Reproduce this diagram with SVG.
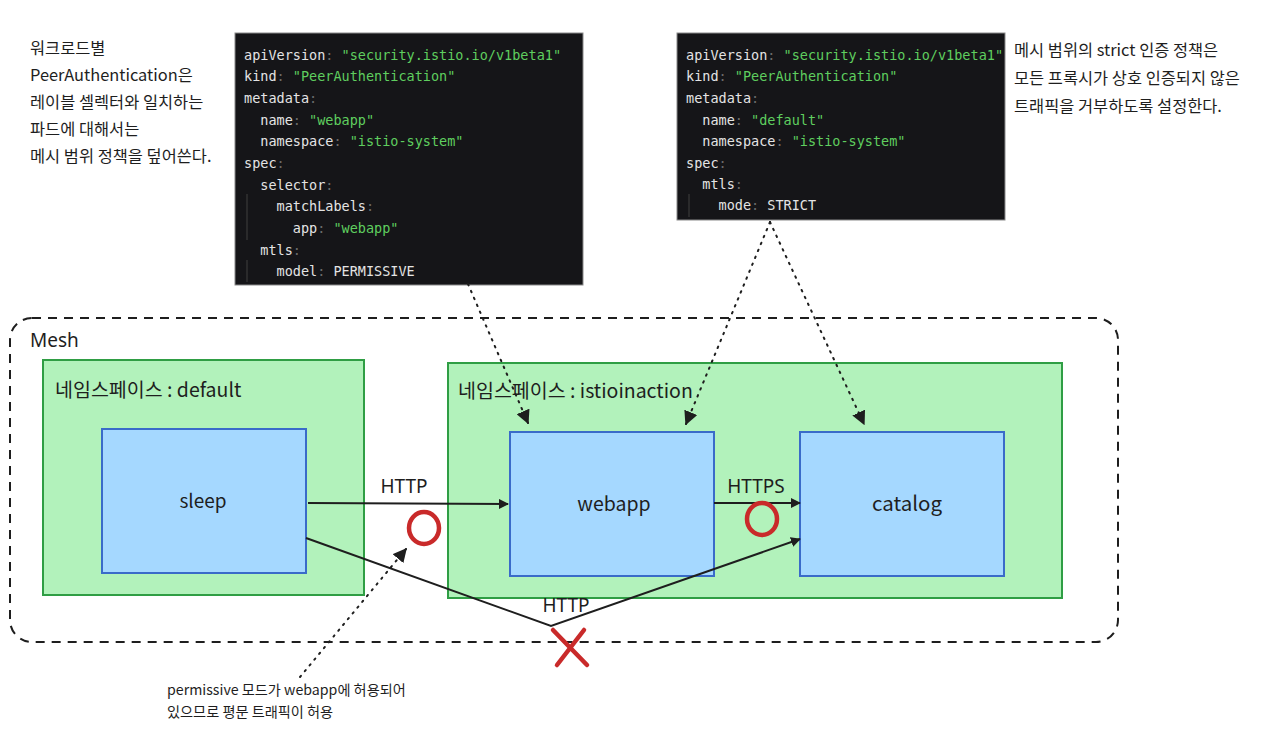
<svg xmlns="http://www.w3.org/2000/svg" width="1266" height="731" viewBox="0 0 1266 731">
<style>
.hand{font-family:"Noto Sans CJK KR","Noto Sans",sans-serif;fill:#1e1e1e}
.code{font-family:"DejaVu Sans Mono","Liberation Mono",monospace;font-size:13.5px;fill:#e4e4e4}
.s{fill:#5fce5f}
.c{fill:#6a6a6a}
.ns{fill:#b2f2bb;stroke:#2f9e44;stroke-width:2}
.node{fill:#a5d8ff;stroke:#3a6bc9;stroke-width:2}
.lbl{font-family:"Noto Sans","Liberation Sans",sans-serif;fill:#1e1e1e}
.edge{fill:none;stroke:#1e1e1e;stroke-width:2}
.dot{fill:none;stroke:#1e1e1e;stroke-width:2;stroke-dasharray:1.5 6;stroke-linecap:round}
.red{fill:none;stroke:#c92a2a;stroke-width:4.5;stroke-linecap:round}
.guide{stroke:#3a3a3a;stroke-width:1.2}
</style>
<defs>
<marker id="ah" viewBox="0 0 10 10" refX="9" refY="5" markerWidth="10" markerHeight="10" markerUnits="userSpaceOnUse" orient="auto">
<path d="M0,0 L10,5 L0,10 z" fill="#1e1e1e"/>
</marker>
<marker id="ah2" viewBox="0 0 10 10" refX="9" refY="5" markerWidth="14" markerHeight="14" markerUnits="userSpaceOnUse" orient="auto">
<path d="M0,0 L10,5 L0,10 z" fill="#1e1e1e"/>
</marker>
</defs>
<rect width="1266" height="731" fill="#ffffff"/>

<g id="note-left" class="hand" font-size="16.4">
<text x="30" y="54">워크로드별</text>
<text x="30" y="81">PeerAuthentication은</text>
<text x="30" y="108">레이블 셀렉터와 일치하는</text>
<text x="30" y="135">파드에 대해서는</text>
<text x="30" y="162">메시 범위 정책을 덮어쓴다.</text>
</g>

<g id="note-right" class="hand" font-size="16.4">
<text x="1014" y="56">메시 범위의 strict 인증 정책은</text>
<text x="1014" y="84">모든 프록시가 상호 인증되지 않은</text>
<text x="1014" y="112">트래픽을 거부하도록 설정한다.</text>
</g>

<g id="code-webapp">
<rect x="235" y="33" width="348" height="252" fill="#151518" stroke="#8a8a8a" stroke-width="1"/>
<line class="guide" x1="247" y1="194" x2="247" y2="240"/>
<line class="guide" x1="247" y1="260" x2="247" y2="282"/>
<text class="code" x="244" y="60">apiVersion<tspan class="c">:</tspan> <tspan class="s">"security.istio.io/v1beta1"</tspan></text>
<text class="code" x="244" y="81">kind<tspan class="c">:</tspan> <tspan class="s">"PeerAuthentication"</tspan></text>
<text class="code" x="244" y="103">metadata<tspan class="c">:</tspan></text>
<text class="code" x="244" y="125" xml:space="preserve">  name<tspan class="c">:</tspan> <tspan class="s">"webapp"</tspan></text>
<text class="code" x="244" y="146" xml:space="preserve">  namespace<tspan class="c">:</tspan> <tspan class="s">"istio-system"</tspan></text>
<text class="code" x="244" y="168">spec<tspan class="c">:</tspan></text>
<text class="code" x="244" y="190" xml:space="preserve">  selector<tspan class="c">:</tspan></text>
<text class="code" x="244" y="211" xml:space="preserve">    matchLabels<tspan class="c">:</tspan></text>
<text class="code" x="244" y="233" xml:space="preserve">      app<tspan class="c">:</tspan> <tspan class="s">"webapp"</tspan></text>
<text class="code" x="244" y="255" xml:space="preserve">  mtls<tspan class="c">:</tspan></text>
<text class="code" x="244" y="276" xml:space="preserve">    model<tspan class="c">:</tspan> PERMISSIVE</text>
</g>

<g id="code-default">
<rect x="677" y="33" width="328" height="187" fill="#151518" stroke="#8a8a8a" stroke-width="1"/>
<line class="guide" x1="689" y1="194" x2="689" y2="217"/>
<text class="code" x="686" y="60">apiVersion<tspan class="c">:</tspan> <tspan class="s">"security.istio.io/v1beta1"</tspan></text>
<text class="code" x="686" y="81">kind<tspan class="c">:</tspan> <tspan class="s">"PeerAuthentication"</tspan></text>
<text class="code" x="686" y="103">metadata<tspan class="c">:</tspan></text>
<text class="code" x="686" y="125" xml:space="preserve">  name<tspan class="c">:</tspan> <tspan class="s">"default"</tspan></text>
<text class="code" x="686" y="146" xml:space="preserve">  namespace<tspan class="c">:</tspan> <tspan class="s">"istio-system"</tspan></text>
<text class="code" x="686" y="168">spec<tspan class="c">:</tspan></text>
<text class="code" x="686" y="189" xml:space="preserve">  mtls<tspan class="c">:</tspan></text>
<text class="code" x="686" y="210" xml:space="preserve">    mode<tspan class="c">:</tspan> STRICT</text>
</g>

<g id="mesh">
<rect x="10" y="318" width="1108" height="324" rx="22" fill="none" stroke="#1e1e1e" stroke-width="2" stroke-dasharray="9 7"/>
<text class="lbl" x="30" y="347" font-size="19">Mesh</text>
</g>

<g id="ns-default">
<rect class="ns" x="43" y="360" width="321" height="235"/>
<text class="hand" x="55" y="397" font-size="19.5">네임스페이스 : default</text>
</g>

<g id="ns-istioinaction">
<rect class="ns" x="448" y="363" width="614" height="235"/>
<text class="hand" x="458" y="398" font-size="19.5">네임스페이스 : istioinaction</text>
</g>

<g id="sleep">
<rect class="node" x="102" y="429" width="204" height="144"/>
<text class="hand" x="203" y="508" font-size="19" text-anchor="middle">sleep</text>
</g>

<g id="webapp">
<rect class="node" x="510" y="432" width="204" height="144"/>
<text class="hand" x="614" y="511" font-size="19.5" text-anchor="middle">webapp</text>
</g>

<g id="catalog">
<rect class="node" x="800" y="432" width="204" height="144"/>
<text class="hand" x="907" y="511" font-size="20.5" text-anchor="middle">catalog</text>
</g>

<g id="connectors">
<path class="edge" d="M308,503 L508,504" marker-end="url(#ah)"/>
<text class="lbl" x="404" y="493" font-size="19" text-anchor="middle">HTTP</text>
<path class="edge" d="M306,538 L551,626 L800,539" marker-end="url(#ah)"/>
<text class="lbl" x="566" y="612" font-size="19" text-anchor="middle">HTTP</text>
<path class="edge" d="M714,503 L800,503" stroke-width="3" marker-end="url(#ah)"/>
<text class="lbl" x="756" y="493" font-size="19" text-anchor="middle">HTTPS</text>
<path class="dot" d="M468,284 L528,423" marker-end="url(#ah2)"/>
<path class="dot" d="M770,222 L686,424" marker-end="url(#ah2)"/>
<path class="dot" d="M770,222 L864,424" marker-end="url(#ah2)"/>
<path class="dot" d="M300,677 L406,549" marker-end="url(#ah2)"/>
<ellipse class="red" cx="424" cy="528" rx="15" ry="16"/>
<ellipse class="red" cx="762" cy="519" rx="15" ry="16"/>
<path class="red" d="M553,630 L587,665 M584,630 L557,665"/>
</g>

<g id="note-bottom" class="hand" font-size="14.2">
<text x="167" y="695">permissive 모드가 webapp에 허용되어</text>
<text x="167" y="717">있으므로 평문 트래픽이 허용</text>
</g>
</svg>
